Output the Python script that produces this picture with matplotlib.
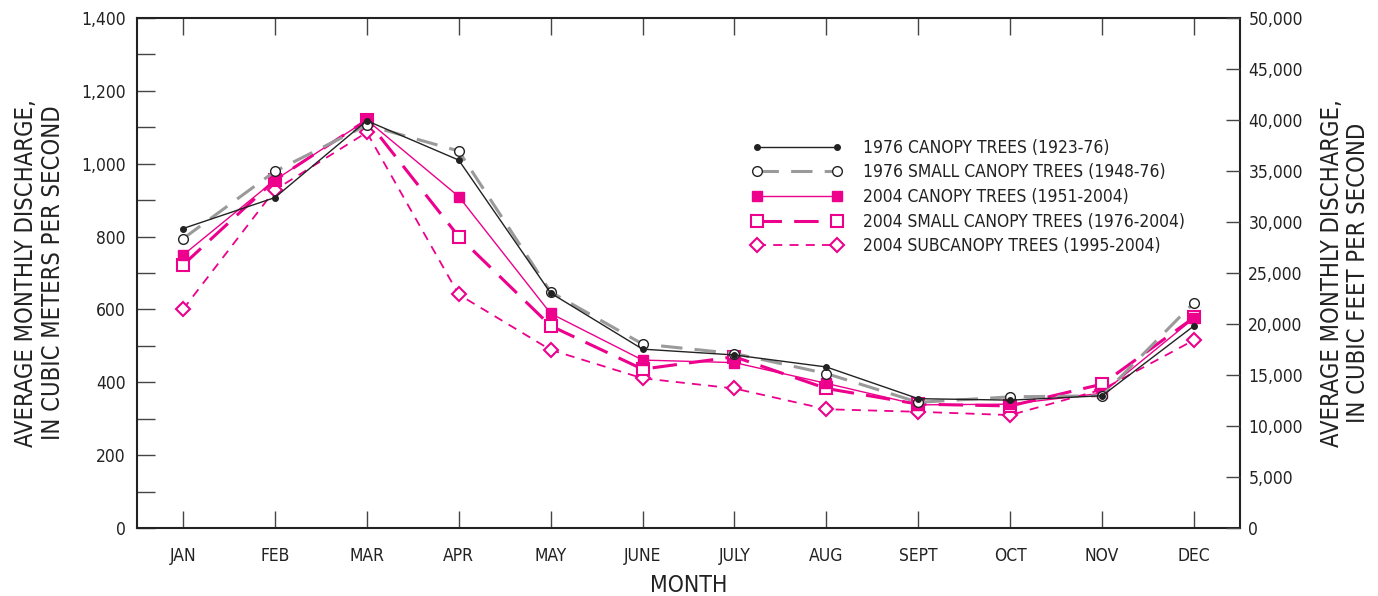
import matplotlib
matplotlib.use("Agg")
import matplotlib.pyplot as plt
from matplotlib.ticker import MultipleLocator, FuncFormatter

plt.rcParams['font.family'] = ['DejaVu Sans']
plt.rcParams['font.stretch'] = 'condensed'

months = ['JAN', 'FEB', 'MAR', 'APR', 'MAY', 'JUNE', 'JULY', 'AUG', 'SEPT', 'OCT', 'NOV', 'DEC']

canopy_1976 = [822, 907, 1118, 1010, 645, 491, 475, 442, 355, 351, 363, 555]
small_canopy_1976 = [794, 979, 1106, 1035, 648, 505, 479, 424, 345, 360, 363, 619]
canopy_2004 = [749, 955, 1120, 910, 589, 461, 454, 397, 338, 340, 370, 576]
small_canopy_2004 = [722, 955, 1120, 800, 555, 436, 470, 383, 340, 335, 395, 578]
subcanopy_2004 = [600, 928, 1086, 641, 489, 411, 383, 326, 319, 310, 380, 516]

labels = [
    '1976 CANOPY TREES (1923-76)',
    '1976 SMALL CANOPY TREES (1948-76)',
    '2004 CANOPY TREES (1951-2004)',
    '2004 SMALL CANOPY TREES (1976-2004)',
    '2004 SUBCANOPY TREES (1995-2004)',
]

MAGENTA = '#ec008c'
GRAY = '#9a9a9a'

fig = plt.figure(figsize=(13.78, 5.96), dpi=100)
ax = fig.add_axes([137 / 1378, 1 - 528 / 596, (1240 - 137) / 1378, (528 - 18) / 596])
x = list(range(len(months)))

ax.plot(x, subcanopy_2004, color=MAGENTA, lw=1.3, ls=(0, (5, 4)), marker='D', ms=7,
        mfc='white', mec=MAGENTA, mew=1.5, label=labels[4], zorder=2)
ax.plot(x, small_canopy_2004, color=MAGENTA, lw=2.2, ls=(0, (8, 4)), marker='s', ms=8,
        mfc='white', mec=MAGENTA, mew=1.5, label=labels[3], zorder=3)
ax.plot(x, canopy_2004, color=MAGENTA, lw=1.0, marker='s', ms=6.5,
        mfc=MAGENTA, mec=MAGENTA, label=labels[2], zorder=4)
ax.plot(x, small_canopy_1976, color=GRAY, lw=2.2, ls=(0, (7, 4)), marker='o', ms=7,
        mfc='white', mec='#222222', mew=1.0, label=labels[1], zorder=5)
ax.plot(x, canopy_1976, color='#222222', lw=1.0, marker='o', ms=4,
        mfc='#222222', mec='#222222', label=labels[0], zorder=6)

ax.set_xlim(-0.5, 11.5)
ax.set_ylim(0, 1400)
ax.set_xticks(x)
ax.set_xticklabels(months, fontsize=12.5, color='#222222')
ax.yaxis.set_major_locator(MultipleLocator(200))
ax.yaxis.set_minor_locator(MultipleLocator(100))
ax.yaxis.set_major_formatter(FuncFormatter(lambda v, p: f'{int(v):,}'))
ax.tick_params(axis='y', which='both', direction='in', length=13, width=1, color='#444444',
               labelsize=12.5, labelcolor='#222222', pad=8)
ax.tick_params(axis='x', direction='in', length=12, width=1, color='#444444',
               top=True, pad=14)
for s in ax.spines.values():
    s.set_linewidth(1.5)
    s.set_color('#222222')

ax.set_xlabel('MONTH', fontsize=16.5, color='#222222', labelpad=6)
ax.set_ylabel('AVERAGE MONTHLY DISCHARGE,\nIN CUBIC METERS PER SECOND', fontsize=17,
              color='#222222', labelpad=12, linespacing=1.15)

ax2 = ax.twinx()
ax2.set_ylim(0, 50000)
ax2.yaxis.set_major_locator(MultipleLocator(5000))
ax2.yaxis.set_major_formatter(FuncFormatter(lambda v, p: f'{int(v):,}'))
ax2.tick_params(axis='y', direction='in', length=10, width=1, color='#444444',
                labelsize=12.5, labelcolor='#222222', pad=6)
for s in ax2.spines.values():
    s.set_visible(False)
ax2.set_ylabel('AVERAGE MONTHLY DISCHARGE,\nIN CUBIC FEET PER SECOND', fontsize=17,
               color='#222222', labelpad=12, linespacing=1.15)

handles, lbls = ax.get_legend_handles_labels()
leg = ax.legend(handles[::-1], lbls[::-1], loc='center left', bbox_to_anchor=(0.551, 0.649),
                frameon=False, fontsize=12.5, numpoints=2, handlelength=5.2,
                handletextpad=1.2, labelspacing=0.38, borderaxespad=0)
for t in leg.get_texts():
    t.set_color('#222222')

fig.savefig('out.png', dpi=100)
